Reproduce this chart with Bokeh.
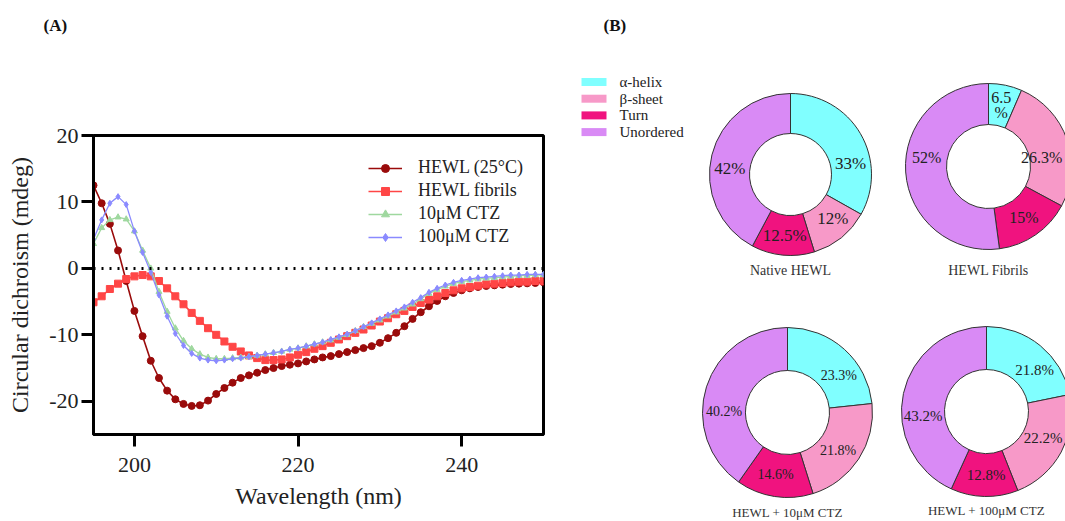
import math
from bokeh.plotting import figure
from bokeh.models import Range1d, FixedTicker, Span, Legend, LegendItem, ColumnDataSource
from bokeh.embed import file_html
from bokeh.resources import INLINE
from bokeh.core.properties import value

SERIF = "Liberation Serif"

# ---------------- Panel A data ----------------
wavelength = [195, 196, 197, 198, 199, 200, 201, 202, 203, 204, 205, 206, 207, 208,
              209, 210, 211, 212, 213, 214, 215, 216, 217, 218, 219, 220, 221, 222,
              223, 224, 225, 226, 227, 228, 229, 230, 231, 232, 233, 234, 235, 236,
              237, 238, 239, 240, 241, 242, 243, 244, 245, 246, 247, 248, 249, 250]

hewl_25c = [12.5, 9.8, 6.7, 2.7, -1.9, -6.4, -10.2, -13.9, -16.5, -18.4, -19.7, -20.4, -20.7, -20.6,
            -19.9, -18.9, -18.0, -17.2, -16.5, -16.1, -15.7, -15.3, -15.0, -14.7, -14.5, -14.3, -14.0, -13.7,
            -13.4, -13.2, -12.9, -12.6, -12.3, -12.0, -11.7, -11.2, -10.5, -9.7, -8.7, -7.6, -6.6, -5.7,
            -4.9, -4.2, -3.7, -3.3, -3.0, -2.8, -2.65, -2.55, -2.45, -2.35, -2.3, -2.25, -2.2, -2.1]

hewl_fibrils = [-5.1, -4.2, -3.1, -2.3, -1.6, -1.2, -1.0, -1.2, -1.9, -3.0, -4.2, -5.4, -6.7, -7.9,
                -9.0, -10.0, -11.0, -11.8, -12.5, -13.1, -13.5, -13.8, -13.8, -13.7, -13.4, -13.0, -12.6, -12.1,
                -11.7, -11.2, -10.7, -10.2, -9.7, -9.2, -8.6, -8.0, -7.5, -6.9, -6.4, -5.8, -5.2, -4.7,
                -4.2, -3.7, -3.3, -3.0, -2.8, -2.6, -2.4, -2.3, -2.2, -2.1, -2.0, -2.0, -1.9, -1.9]

ctz_10 = [3.7, 6.1, 7.3, 7.7, 7.4, 5.6, 2.7, 0.0, -3.5, -6.5, -9.0, -10.9, -12.1, -12.9,
          -13.4, -13.6, -13.6, -13.5, -13.4, -13.3, -13.1, -12.9, -12.7, -12.5, -12.2, -12.0, -11.7, -11.4,
          -11.1, -10.8, -10.4, -10.0, -9.4, -8.8, -8.3, -7.8, -7.2, -6.6, -6.0, -5.4, -4.6, -3.8,
          -3.2, -2.7, -2.3, -2.0, -1.8, -1.6, -1.5, -1.4, -1.3, -1.2, -1.1, -1.1, -1.0, -1.0]

ctz_100 = [4.4, 7.3, 9.8, 10.8, 9.6, 5.6, 2.4, -0.6, -4.0, -7.2, -9.8, -11.6, -12.8, -13.5,
           -13.8, -13.9, -13.8, -13.6, -13.5, -13.3, -13.1, -12.9, -12.7, -12.5, -12.2, -12.0, -11.7, -11.4,
           -11.1, -10.7, -10.3, -9.9, -9.4, -8.8, -8.2, -7.6, -7.0, -6.4, -5.8, -5.1, -4.4, -3.6,
           -3.0, -2.5, -2.1, -1.8, -1.6, -1.4, -1.3, -1.2, -1.1, -1.0, -1.0, -0.9, -0.9, -0.9]

series_names = ["HEWL (25°C)", "HEWL fibrils", "10μM CTZ", "100μM CTZ"]
x_ticks = [200, 220, 240]
y_ticks = [-20, -10, 0, 10, 20]
y_tick_labels = ["-20", "-10", "0", "10", "20"]

# ---------------- Panel B data ----------------
segments = ["α-helix", "β-sheet", "Turn", "Unordered"]
native_hewl = [33, 12, 12.5, 42]
fibrils_pct = [6.5, 26.3, 15, 52]
ctz10_pct = [23.3, 21.8, 14.6, 40.2]
ctz100_pct = [21.8, 22.2, 12.8, 43.2]
native_labels = ["33%", "12%", "12.5%", "42%"]
fibrils_labels = ["6.5\n%", "26.3%", "15%", "52%"]
ctz10_labels = ["23.3%", "21.8%", "14.6%", "40.2%"]
ctz100_labels = ["21.8%", "22.2%", "12.8%", "43.2%"]
donut_titles = ["Native HEWL", "HEWL Fibrils", "HEWL + 10μM CTZ", "HEWL + 100μM CTZ"]

# ---------------- Figure (panel A frame) ----------------
W, H = 1065, 521
FL, FR, FT, FB = 93, 543, 135, 434   # frame edges in page pixels

p = figure(width=W, height=H, x_range=Range1d(195, 250), y_range=Range1d(-25, 20),
           output_backend="svg", toolbar_location=None,
           min_border_left=FL, min_border_right=W - FR, min_border_top=FT, min_border_bottom=H - FB)
# pixel-like helper ranges for the panel-B drawing (data = page px, y negated)
p.extra_x_ranges = {"px": Range1d(FL, FR)}
p.extra_y_ranges = {"py": Range1d(-FB, -FT)}
PB = dict(x_range_name="px", y_range_name="py", level="overlay")

p.grid.visible = False
p.outline_line_color = "black"
p.outline_line_width = 3
p.background_fill_color = "white"

for ax in (p.xaxis[0], p.yaxis[0]):
    ax.axis_line_width = 3
    ax.axis_line_color = "black"
    ax.major_tick_line_width = 3
    ax.major_tick_out = 12
    ax.major_tick_in = 0
    ax.minor_tick_line_color = None
    ax.major_label_text_font = SERIF
    ax.major_label_text_font_size = "22px"
    ax.major_label_text_color = "#222222"
    ax.axis_label_text_font = SERIF
    ax.axis_label_text_font_size = "24px"
    ax.axis_label_text_font_style = "normal"
    ax.axis_label_text_color = "#222222"

p.xaxis.ticker = FixedTicker(ticks=x_ticks)
p.yaxis.ticker = FixedTicker(ticks=y_ticks)
p.yaxis.major_label_overrides = dict(zip(y_ticks, y_tick_labels))
p.xaxis.axis_label = "Wavelength (nm)"
p.yaxis.axis_label = "Circular dichroism (mdeg)"
p.xaxis.major_label_standoff = 11
p.xaxis.axis_label_standoff = 8
p.yaxis.major_label_standoff = 3
p.yaxis.axis_label_standoff = 13

p.add_layout(Span(location=0, dimension="width", line_color="black", line_width=3,
                  line_dash="2 6"))

src = ColumnDataSource(dict(x=wavelength, a=hewl_25c, b=hewl_fibrils, c=ctz_10, d=ctz_100))
styles = [
    ("a", "#9a0b0b", "circle", 7, 1.6),
    ("b", "#ff4646", "square", 7, 1.6),
    ("c", "#9fd89f", "triangle", 6, 1.3),
    ("d", "#8a8aff", "diamond", 6, 1.3),
]
items = []
for (col, color, marker, size, lw), name in zip(styles, series_names):
    l = p.line("x", col, source=src, line_color=color, line_width=lw)
    s = p.scatter("x", col, source=src, marker=marker, size=size, fill_color=color, line_color=color)
    items.append(LegendItem(label=name, renderers=[l, s]))

legend = Legend(items=items, location=(275, 187), border_line_color=None,
                background_fill_alpha=0, padding=0, margin=0, spacing=2,
                glyph_width=34, glyph_height=20, label_height=20, label_standoff=16,
                label_text_font=SERIF, label_text_font_size="18px", label_text_color="#222222")
p.add_layout(legend)

# panel letters
p.text(x=[43, 603], y=[-25, -25], text=["(A)", "(B)"], text_font=value(SERIF),
       text_font_size="17px", text_font_style="bold", text_baseline="middle",
       text_align="left", text_color="#111111", **PB)

# ---------------- Panel B ----------------
seg_colors = ["#80ffff", "#f799c8", "#f0137f", "#d98af5"]

leg_src = ColumnDataSource(dict(
    x=[593.5] * 4, y=[-(81.5 + i * 16.7) for i in range(4)], tx=[619] * 4,
    color=seg_colors, text=segments))
p.rect("x", "y", width=25, height=8, fill_color="color", line_color=None, source=leg_src, **PB)
p.text("tx", "y", text="text", source=leg_src, text_font=value(SERIF), text_font_size="15px",
       text_baseline="middle", text_align="left", text_color="#222222", **PB)

# (values, labels, centre x, centre y, outer r, inner r, label font, label angle nudges (deg), title y, title font)
donuts = [
    (native_hewl, native_labels, 790, 174, 81, 41, 17, [20, -5, 0, -8], 270, "14px"),
    (fibrils_pct, fibrils_labels, 988, 166, 83, 42, 16, [0, 11, 0, 12], 270, "14px"),
    (ctz10_pct, ctz10_labels, 787, 412, 85, 42, 14, [12, 4, 2, -17], 512, "13px"),
    (ctz100_pct, ctz100_labels, 986, 411, 85, 42, 15, [10, -4, -1, -16], 510, "13px"),
]

for (vals, labs, cx, cy, ro, ri, fs, nudges, ty, tfs), title in zip(donuts, donut_titles):
    total = sum(vals)
    starts, ends, lx, ly = [], [], [], []
    cum = 0.0
    for v, lab, nd in zip(vals, labs, nudges):
        f0 = cum / total
        cum += v
        f1 = cum / total
        starts.append(math.pi / 2 - 2 * math.pi * f0)
        ends.append(math.pi / 2 - 2 * math.pi * f1)
        mid = math.pi / 2 - 2 * math.pi * (f0 + f1) / 2 - math.radians(nd)
        rm = (ro + ri) / 2
        x = cx + rm * math.cos(mid)
        half_w = 0.26 * fs * max(len(s) for s in lab.split("\n"))
        x = min(x, W - 3 - half_w)   # keep the label inside the canvas
        lx.append(x)
        ly.append(-cy + rm * math.sin(mid))
    ds = ColumnDataSource(dict(x=[cx] * 4, y=[-cy] * 4, s=starts, e=ends, color=seg_colors,
                               lx=lx, ly=ly, text=labs))
    p.annular_wedge("x", "y", inner_radius=ri, outer_radius=ro, start_angle="s", end_angle="e",
                    direction="clock", fill_color="color", line_color="#333333", line_width=1,
                    source=ds, **PB)
    p.text("lx", "ly", text="text", source=ds, text_font=value(SERIF), text_font_size=f"{fs}px",
           text_align="center", text_baseline="middle", text_color="#222222",
           text_line_height=0.9, **PB)
    p.text(x=[cx], y=[-ty], text=[title], text_font=value(SERIF), text_font_size=tfs,
           text_align="center", text_baseline="middle", text_color="#333333", **PB)

open("out.html", "w").write(file_html(p, INLINE))
